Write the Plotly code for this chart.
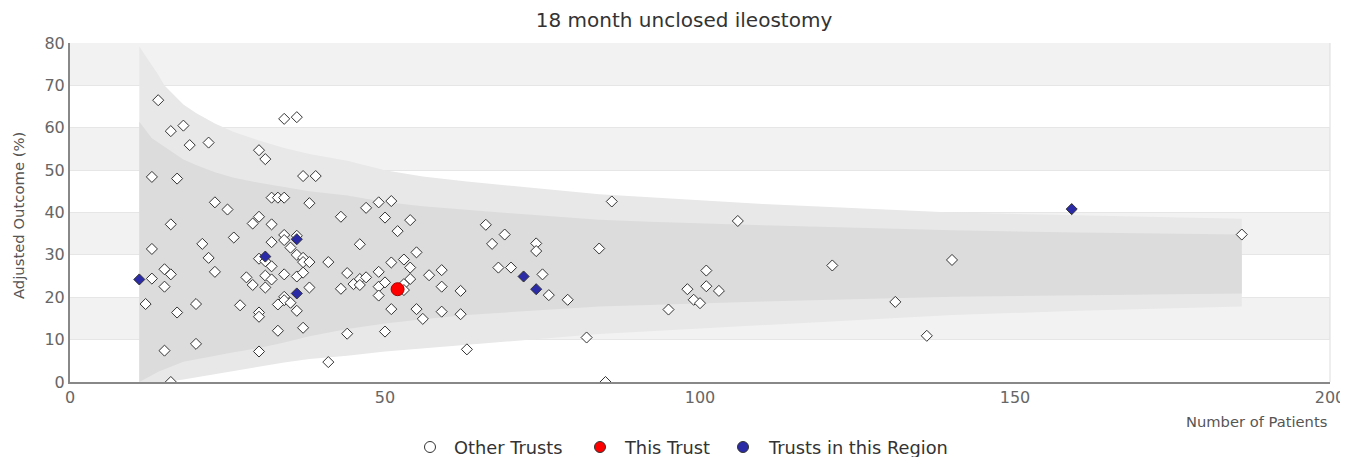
import plotly.graph_objects as go

title_text = "18 month unclosed ileostomy"
x_title = "Number of Patients"
y_title = "Adjusted Outcome (%)"

# Other trusts: number of patients, adjusted outcome (%)
other_n = [14, 34, 36, 16, 18, 19, 22, 30, 31, 13, 17, 37, 39, 32, 33, 34, 38, 23, 25, 30,
           29, 32, 16, 43, 26, 34, 34, 36, 32, 35, 46, 21, 13, 22, 30, 31, 32, 36, 37, 37,
           38, 41, 15, 16, 13, 15, 23, 28, 29, 31, 32, 31, 34, 36, 37, 38, 43, 44, 45, 46,
           46, 47, 34, 34, 33, 35, 36, 27, 30, 30, 12, 17, 20, 37, 33, 44, 15, 20, 30, 16,
           41, 47, 49, 51, 50, 54, 52, 49, 51, 53, 54, 55, 54, 53, 53, 49, 49, 50, 51, 55,
           56, 57, 59, 59, 59, 62, 62, 50, 63, 66, 69, 67, 68, 70, 74, 74, 86, 84, 75, 76,
           79, 82, 85, 106, 101, 98, 101, 103, 99, 100, 95, 121, 140, 131, 136, 186]
other_val = [66.5, 62.1, 62.5, 59.2, 60.5, 55.9, 56.5, 54.7, 52.6, 48.4, 48.0, 48.6, 48.6, 43.5, 43.5, 43.5, 42.2, 42.4, 40.7, 39.0,
             37.4, 37.2, 37.2, 39.0, 34.1, 34.7, 33.5, 34.5, 33.0, 31.7, 32.5, 32.6, 31.4, 29.3, 29.1, 28.5, 27.3, 30.0, 29.3, 28.3,
             28.3, 28.3, 26.6, 25.4, 24.4, 22.5, 26.0, 24.7, 22.9, 25.1, 24.2, 22.3, 25.4, 24.9, 25.8, 22.3, 22.0, 25.7, 23.1, 24.3,
             22.9, 24.7, 20.1, 19.3, 18.3, 18.7, 16.8, 18.1, 16.4, 15.4, 18.4, 16.4, 18.4, 12.8, 12.1, 11.4, 7.4, 9.0, 7.2, 0.0,
             4.7, 41.1, 42.4, 42.7, 38.8, 38.2, 35.6, 26.0, 28.2, 28.9, 27.0, 30.6, 24.3, 23.1, 21.7, 22.5, 20.4, 23.5, 17.2, 17.2,
             14.9, 25.2, 26.4, 22.5, 16.6, 21.5, 16.0, 11.9, 7.7, 37.1, 34.8, 32.6, 27.0, 27.0, 32.7, 30.9, 42.6, 31.5, 25.4, 20.5,
             19.4, 10.5, 0.0, 38.0, 26.3, 21.9, 22.6, 21.5, 19.4, 18.6, 17.1, 27.5, 28.8, 18.9, 10.9, 34.8]

# Trusts in this region
region_n = [11, 31, 36, 36, 72, 74, 159]
region_val = [24.2, 29.6, 33.7, 20.9, 24.9, 21.9, 40.8]

# This trust
this_n = [52]
this_val = [21.9]

# Funnel limits
funnel_n = [11, 12, 13, 14, 15, 16, 18, 20, 23, 26, 30, 34, 38, 44, 50, 56, 63, 70, 84, 92, 110, 140, 160, 186]
outer_upper = [79.2, 77.0, 74.5, 72.5, 70.0, 68.5, 65.5, 63.5, 61.0, 59.0, 57.0, 55.2, 53.8, 52.2, 50.0, 48.5,
               47.3, 46.3, 44.3, 43.6, 42.0, 40.0, 39.3, 38.5]
inner_upper = [61.4, 59.5, 57.5, 56.5, 55.5, 54.5, 52.5, 51.2, 49.5, 48.2, 47.0, 46.0, 45.0, 44.0, 42.5, 41.5,
               40.6, 39.8, 38.3, 37.8, 37.0, 35.8, 35.3, 34.8]
inner_lower = [0.0, 0.8, 1.6, 2.4, 3.0, 3.6, 4.8, 5.4, 6.2, 7.0, 8.0, 9.3, 10.8, 12.5, 13.8, 14.8,
               15.8, 16.5, 17.8, 18.2, 19.0, 20.1, 20.5, 20.9]
outer_lower = [0.0, 0.0, 0.0, 0.0, 0.0, 0.2, 0.6, 1.0, 1.8, 2.6, 3.6, 4.6, 5.4, 6.2, 7.2, 8.0,
               8.8, 9.6, 11.3, 12.0, 13.5, 15.8, 16.8, 17.8]

legend_names = ["Other Trusts", "This Trust", "Trusts in this Region"]
white_col = "#ffffff"
red_col = "#ff0000"
blue_col = "#2b2ba8"
outline_col = "#333333"

# page geometry: the html body has an 8px margin, so the figure starts at (8, 8)
PAGE_W, PAGE_H, OFF = 1348, 457, 8
FIG_W, FIG_H = PAGE_W - OFF, PAGE_H - OFF
# plot-area edges in page pixels
L, R, T, B = 70, 1330, 43, 382
W, H = R - L, B - T


def px_x(px):
    return (px - L) / W


def px_y(py):
    return (B - py) / H


fig = go.Figure()

fig.add_trace(go.Scatter(
    x=funnel_n + funnel_n[::-1], y=outer_upper + outer_lower[::-1],
    fill="toself", fillcolor="#e8e8e8", mode="lines", line=dict(width=0),
    hoverinfo="skip", showlegend=False))
fig.add_trace(go.Scatter(
    x=funnel_n + funnel_n[::-1], y=inner_upper + inner_lower[::-1],
    fill="toself", fillcolor="#dcdcdc", mode="lines", line=dict(width=0),
    hoverinfo="skip", showlegend=False))

fig.add_trace(go.Scatter(
    x=other_n, y=other_val, mode="markers", name=legend_names[0], showlegend=False,
    marker=dict(symbol="diamond", size=8.5, color=white_col, line=dict(color=outline_col, width=1))))
fig.add_trace(go.Scatter(
    x=region_n, y=region_val, mode="markers", name=legend_names[2], showlegend=False,
    marker=dict(symbol="diamond", size=8.5, color=blue_col, line=dict(color=outline_col, width=1))))
fig.add_trace(go.Scatter(
    x=this_n, y=this_val, mode="markers", name=legend_names[1], showlegend=False,
    marker=dict(symbol="circle", size=13, color=red_col, line=dict(color="#aa0000", width=1))))

shapes = []
for lo in [10, 30, 50, 70]:
    shapes.append(dict(type="rect", xref="paper", yref="y", x0=0, x1=1, y0=lo, y1=lo + 10,
                       fillcolor="#f2f2f2", line=dict(width=0), layer="below"))
shapes.append(dict(type="line", xref="paper", yref="paper", x0=1, x1=1, y0=0, y1=1,
                   line=dict(color="#dddddd", width=1), layer="below"))

# manual legend (circles + labels)
legend_y = px_y(447)
legend_items = [(430, 452, white_col), (600, 622, red_col), (743, 766, blue_col)]
annotations = []
for (cx, tx, col), name in zip(legend_items, legend_names):
    shapes.append(dict(type="circle", xref="paper", yref="paper",
                       xsizemode="pixel", ysizemode="pixel",
                       xanchor=px_x(cx), yanchor=legend_y, x0=-5.5, x1=5.5, y0=-5.5, y1=5.5,
                       fillcolor=col, line=dict(color=outline_col, width=1)))
    annotations.append(dict(text=name, xref="paper", yref="paper", x=px_x(tx), xanchor="left",
                            y=legend_y, yanchor="middle", showarrow=False,
                            font=dict(size=17.8, color="#333333")))

annotations.append(dict(text=x_title, xref="paper", yref="paper", x=px_x(1329), xanchor="right",
                        y=px_y(422), yanchor="middle", showarrow=False,
                        font=dict(size=14.7, color="#555555")))
annotations.append(dict(text=y_title, xref="paper", yref="paper", x=px_x(18), xanchor="center",
                        y=px_y(216), yanchor="middle", textangle=-90, showarrow=False,
                        font=dict(size=14.8, color="#555555")))

fig.update_layout(
    width=FIG_W, height=FIG_H,
    margin=dict(l=L - OFF, r=FIG_W - (R - OFF), t=T - OFF, b=FIG_H - (B - OFF), autoexpand=False),
    paper_bgcolor="white", plot_bgcolor="white",
    font=dict(family="DejaVu Sans", color="#666666"),
    title=dict(text=title_text, x=px_x(684), xanchor="center", xref="paper",
               y=1 - (20 - OFF) / FIG_H, yanchor="middle",
               font=dict(size=20, color="#333333")),
    showlegend=False,
    xaxis=dict(range=[0, 200], tickvals=[0, 50, 100, 150, 200], showgrid=False, zeroline=False,
               showline=True, linecolor="#888888", linewidth=2, ticks="", automargin=False,
               ticklabeloverflow="allow",
               tickfont=dict(size=16, color="#666666")),
    yaxis=dict(range=[0, 80], dtick=10, showgrid=True, gridcolor="#e6e6e6", gridwidth=1,
               zeroline=False, showline=True, linecolor="#888888", linewidth=2, ticks="",
               automargin=False, tickfont=dict(size=16, color="#666666")),
    shapes=shapes,
    annotations=annotations,
)

fig.write_html("out.html", post_script="document.body.style.overflow='hidden';")
